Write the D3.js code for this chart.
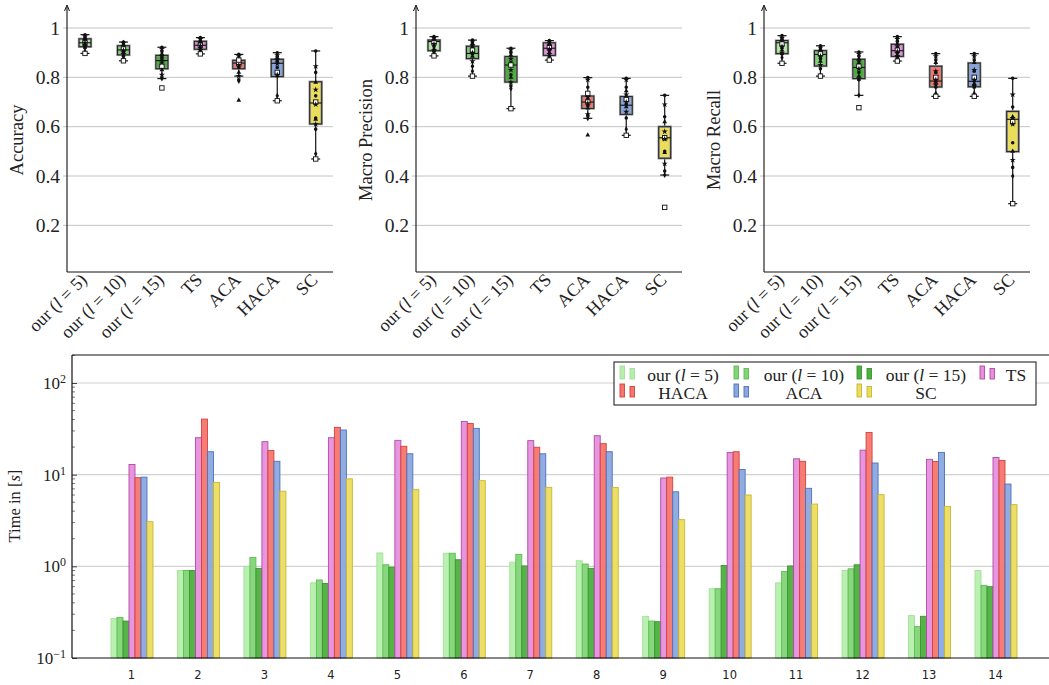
<!DOCTYPE html>
<html>
<head>
<meta charset="utf-8">
<script src="https://cdn.jsdelivr.net/npm/d3@7"></script>
<style>
body { margin: 0; background: #fff; }
svg text { font-family: "Liberation Serif", "Times New Roman", serif; fill: #222; }
</style>
</head>
<body>
<svg id="chart" width="1049" height="685"></svg>
<script>
// ---- data ----
var methods = ["our5", "our10", "our15", "TS", "ACA", "HACA", "SC"];
var methodL = [5, 10, 15, null, null, null, null];
var methodNames = ["our", "our", "our", "TS", "ACA", "HACA", "SC"];
var metrics = ["Accuracy", "Macro Precision", "Macro Recall"];
var boxColors = ["#b4eca8", "#7fd173", "#4aac3c", "#e48fd9", "#f2756c", "#86a5dc", "#eadd5c"];

// box stats: [whisker low, q1, median, q3, whisker high]
var accBox = [[0.897, 0.924, 0.940, 0.956, 0.973], [0.867, 0.891, 0.911, 0.928, 0.943], [0.795, 0.835, 0.868, 0.889, 0.922],
  [0.895, 0.914, 0.930, 0.946, 0.961], [0.805, 0.835, 0.858, 0.869, 0.893], [0.705, 0.803, 0.857, 0.873, 0.900], [0.469, 0.611, 0.696, 0.782, 0.907]];
var precBox = [[0.887, 0.908, 0.945, 0.951, 0.965], [0.805, 0.876, 0.897, 0.926, 0.951], [0.673, 0.781, 0.850, 0.884, 0.918],
  [0.870, 0.889, 0.918, 0.940, 0.949], [0.634, 0.674, 0.700, 0.724, 0.799], [0.565, 0.650, 0.687, 0.722, 0.796], [0.404, 0.472, 0.555, 0.600, 0.727]];
var recBox = [[0.857, 0.896, 0.940, 0.949, 0.969], [0.805, 0.846, 0.893, 0.908, 0.928], [0.727, 0.795, 0.840, 0.873, 0.903],
  [0.866, 0.885, 0.908, 0.934, 0.965], [0.723, 0.761, 0.785, 0.845, 0.896], [0.723, 0.762, 0.784, 0.858, 0.896], [0.288, 0.499, 0.630, 0.662, 0.796]];

// single runs (14 datasets) drawn as marks on the boxes, one mark shape per dataset
var accPts = [
  [0.973, 0.965, 0.96, 0.955, 0.95, 0.945, 0.94, 0.94, 0.935, 0.93, 0.925, 0.92, 0.905, 0.897],
  [0.943, 0.94, 0.935, 0.93, 0.925, 0.92, 0.915, 0.91, 0.905, 0.9, 0.895, 0.885, 0.875, 0.867],
  [0.922, 0.915, 0.905, 0.895, 0.885, 0.88, 0.845, 0.86, 0.87, 0.83, 0.81, 0.797, 0.795, 0.757],
  [0.961, 0.955, 0.95, 0.945, 0.94, 0.935, 0.93, 0.928, 0.92, 0.915, 0.91, 0.905, 0.9, 0.895],
  [0.893, 0.885, 0.878, 0.707, 0.865, 0.86, 0.855, 0.85, 0.84, 0.82, 0.805, 0.79, 0.785, 0.87],
  [0.9, 0.89, 0.885, 0.878, 0.872, 0.865, 0.82, 0.855, 0.84, 0.86, 0.81, 0.805, 0.725, 0.705],
  [0.907, 0.845, 0.82, 0.78, 0.75, 0.725, 0.70, 0.69, 0.635, 0.63, 0.61, 0.59, 0.49, 0.469]];
var precPts = [
  [0.965, 0.96, 0.955, 0.95, 0.948, 0.945, 0.94, 0.935, 0.925, 0.915, 0.91, 0.905, 0.895, 0.887],
  [0.951, 0.945, 0.94, 0.935, 0.93, 0.92, 0.91, 0.9, 0.895, 0.885, 0.865, 0.845, 0.825, 0.805],
  [0.918, 0.91, 0.9, 0.89, 0.875, 0.86, 0.85, 0.83, 0.81, 0.8, 0.78, 0.765, 0.755, 0.673],
  [0.949, 0.945, 0.94, 0.935, 0.93, 0.925, 0.92, 0.915, 0.91, 0.9, 0.895, 0.885, 0.875, 0.87],
  [0.799, 0.79, 0.76, 0.566, 0.72, 0.71, 0.7, 0.695, 0.685, 0.675, 0.65, 0.645, 0.634, 0.735],
  [0.796, 0.79, 0.76, 0.745, 0.73, 0.72, 0.71, 0.7, 0.69, 0.68, 0.66, 0.635, 0.59, 0.565],
  [0.727, 0.69, 0.64, 0.62, 0.58, 0.56, 0.555, 0.55, 0.5, 0.495, 0.45, 0.42, 0.404, 0.273]];
var recPts = [
  [0.969, 0.96, 0.955, 0.95, 0.945, 0.94, 0.935, 0.925, 0.92, 0.91, 0.9, 0.895, 0.88, 0.857],
  [0.928, 0.92, 0.915, 0.91, 0.905, 0.9, 0.895, 0.885, 0.875, 0.865, 0.85, 0.835, 0.81, 0.805],
  [0.903, 0.895, 0.885, 0.875, 0.865, 0.855, 0.845, 0.835, 0.82, 0.805, 0.795, 0.79, 0.727, 0.677],
  [0.965, 0.955, 0.945, 0.935, 0.925, 0.92, 0.91, 0.905, 0.9, 0.89, 0.885, 0.88, 0.875, 0.866],
  [0.896, 0.885, 0.87, 0.86, 0.825, 0.82, 0.8, 0.79, 0.785, 0.78, 0.77, 0.76, 0.735, 0.723],
  [0.896, 0.885, 0.87, 0.86, 0.83, 0.825, 0.8, 0.79, 0.785, 0.775, 0.765, 0.76, 0.735, 0.723],
  [0.796, 0.73, 0.68, 0.64, 0.635, 0.63, 0.62, 0.61, 0.535, 0.5, 0.465, 0.435, 0.4, 0.288]];
var boxTicks = [0.2, 0.4, 0.6, 0.8, 1];

// time per dataset (seconds)
var datasets = [1, 2, 3, 4, 5, 6, 7, 8, 9, 10, 11, 12, 13, 14];
var timeSeries = ["our5", "our10", "our15", "TS", "HACA", "ACA", "SC"];
var timeNames = ["our", "our", "our", "TS", "HACA", "ACA", "SC"];
var timeL = [5, 10, 15, null, null, null, null];
var tOur5  = [0.27, 0.90, 1.00, 0.66, 1.40, 1.39, 1.11, 1.15, 0.285, 0.57, 0.66, 0.90, 0.29, 0.90];
var tOur10 = [0.277, 0.90, 1.25, 0.71, 1.04, 1.39, 1.35, 1.06, 0.253, 0.57, 0.88, 0.94, 0.22, 0.62];
var tOur15 = [0.253, 0.90, 0.95, 0.65, 0.98, 1.18, 1.01, 0.95, 0.249, 1.02, 1.01, 1.04, 0.285, 0.60];
var tTS    = [12.9, 25.3, 22.9, 25.3, 23.7, 38.1, 23.5, 26.6, 9.2, 17.4, 14.9, 18.5, 14.7, 15.4];
var tHACA  = [9.27, 40.4, 18.4, 32.8, 20.4, 36.2, 19.9, 21.8, 9.4, 17.8, 14.0, 28.9, 13.9, 14.3];
var tACA   = [9.4, 17.8, 14.0, 30.7, 16.9, 32.0, 16.9, 17.8, 6.5, 11.4, 7.1, 13.4, 17.5, 7.9];
var tSC    = [3.07, 8.24, 6.6, 9.0, 6.86, 8.6, 7.27, 7.27, 3.23, 6.0, 4.78, 6.05, 4.51, 4.71];
var timeTicks = [0.1, 1, 10, 100];
var barFill = ["#b6efad", "#82d476", "#4caf3e", "#e68fdc", "#f4766e", "#8aa8de", "#ebdc5e"];
var barStroke = ["#a2e198", "#5cbf50", "#3b962f", "#b04aa6", "#d8403a", "#4e70c0", "#cbb632"];

var svg = d3.select("#chart");

// ---- box plots ----
var boxData = [accBox, precBox, recBox];
var ptsData = [accPts, precPts, recPts];
var panelLeft = [67, 416, 764];
var panelW = 266;
var symbols = [d3.symbolCircle, d3.symbolStar, d3.symbolCircle, d3.symbolTriangle, d3.symbolStar, d3.symbolCircle, "sq",
  d3.symbolStar, d3.symbolCircle, d3.symbolTriangle, d3.symbolStar, d3.symbolCircle, d3.symbolDiamond, "sq"];

var yBox = d3.scaleLinear().domain([0, 1]).range([274.7, 28]);

function methodLabel(sel, name, l) {
  if (l == null) { sel.text(name); return; }
  sel.append("tspan").text(name + " (");
  sel.append("tspan").attr("font-style", "italic").text("l");
  sel.append("tspan").text(" = " + l + ")");
}

metrics.forEach(function (m, p) {
  var left = panelLeft[p];
  var g = svg.append("g");
  var x = d3.scalePoint().domain(methods).range([left + 18, left + 248.7]);

  // grid
  g.selectAll(".grid").data(boxTicks).enter().append("line")
    .attr("x1", left - 4).attr("x2", left + panelW)
    .attr("y1", d => yBox(d)).attr("y2", d => yBox(d))
    .attr("stroke", "#c4c4c4").attr("stroke-width", 1);

  var yAxis = d3.axisLeft(yBox).tickValues(boxTicks).tickSize(0).tickPadding(7)
    .tickFormat(d => d === 1 ? "1" : d3.format(".1f")(d));
  var ya = g.append("g").attr("transform", "translate(" + left + ",0)").call(yAxis);
  ya.select(".domain").remove();
  ya.selectAll("text").attr("font-size", 19.5).attr("fill", "#222")
    .style("font-family", "'Liberation Serif', serif");

  // axes lines
  g.append("line").attr("x1", left).attr("x2", left).attr("y1", 272).attr("y2", 7)
    .attr("stroke", "#111").attr("stroke-width", 1.1);
  g.append("path").attr("d", "M" + (left - 2.5) + ",11 L" + left + ",5 L" + (left + 2.5) + ",11")
    .attr("fill", "none").attr("stroke", "#111").attr("stroke-width", 1);
  g.append("line").attr("x1", left).attr("x2", left + panelW).attr("y1", 272).attr("y2", 272)
    .attr("stroke", "#111").attr("stroke-width", 1.1);

  g.append("text").attr("transform", "translate(" + (left - 44) + ",140) rotate(-90)")
    .attr("text-anchor", "middle").attr("font-size", 18.5).text(m);

  // x labels
  methods.forEach(function (k, i) {
    var t = g.append("text")
      .attr("transform", "translate(" + (x(k) + 3) + ",281) rotate(-45)")
      .attr("text-anchor", "end").attr("font-size", 18);
    methodLabel(t, methodNames[i], methodL[i]);
  });

  // boxes
  var bw = 12;
  boxData[p].forEach(function (b, i) {
    var cx = x(methods[i]);
    var bg = g.append("g");
    bg.append("line").attr("x1", cx).attr("x2", cx).attr("y1", yBox(b[0])).attr("y2", yBox(b[4]))
      .attr("stroke", "#111").attr("stroke-width", 1.2);
    [b[0], b[4]].forEach(function (v) {
      bg.append("line").attr("x1", cx - 4.5).attr("x2", cx + 4.5).attr("y1", yBox(v)).attr("y2", yBox(v))
        .attr("stroke", "#111").attr("stroke-width", 1.2);
    });
    bg.append("rect").attr("x", cx - bw / 2).attr("width", bw)
      .attr("y", yBox(b[3])).attr("height", yBox(b[1]) - yBox(b[3]))
      .attr("fill", boxColors[i]).attr("stroke", "#999").attr("stroke-width", 2.4);
    bg.append("rect").attr("x", cx - bw / 2).attr("width", bw)
      .attr("y", yBox(b[3])).attr("height", yBox(b[1]) - yBox(b[3]))
      .attr("fill", "none").attr("stroke", "#222").attr("stroke-width", 1);
    bg.append("line").attr("x1", cx - bw / 2).attr("x2", cx + bw / 2).attr("y1", yBox(b[2])).attr("y2", yBox(b[2]))
      .attr("stroke", "#111").attr("stroke-width", 1.1);

    ptsData[p][i].forEach(function (v, j) {
      var s = symbols[j];
      if (s === "sq") {
        bg.append("rect").attr("x", cx - 2.2).attr("y", yBox(v) - 2.2).attr("width", 4.4).attr("height", 4.4)
          .attr("fill", "#fff").attr("stroke", "#111").attr("stroke-width", 0.9);
      } else {
        bg.append("path").attr("d", d3.symbol().type(s).size(s === d3.symbolStar ? 12 : 10)())
          .attr("transform", "translate(" + cx + "," + yBox(v) + ")").attr("fill", "#111");
      }
    });
  });
});

// ---- time bar chart ----
var timeData = [tOur5, tOur10, tOur15, tTS, tHACA, tACA, tSC];
var xT = d3.scalePoint().domain(datasets).range([131, 995]);
var yT = d3.scaleLog().domain([0.1, 100]).range([658, 383]);
var plotL = 72, plotR = 1049, plotT = 355, plotB = 658;
var gT = svg.append("g");

gT.selectAll(".tgrid").data(timeTicks.slice(1)).enter().append("line")
  .attr("x1", plotL).attr("x2", plotR).attr("y1", d => yT(d)).attr("y2", d => yT(d))
  .attr("stroke", "#d2d2d2").attr("stroke-width", 1.2);

var bwT = 6;
timeData.forEach(function (vals, j) {
  gT.selectAll(".b" + j).data(vals).enter().append("rect")
    .attr("x", (d, i) => xT(datasets[i]) + (j - 3.5) * bwT + 1)
    .attr("width", bwT)
    .attr("y", d => yT(d))
    .attr("height", d => plotB - yT(d))
    .attr("fill", barFill[j]).attr("fill-opacity", 0.95)
    .attr("stroke", barStroke[j]).attr("stroke-width", 0.9);
});

// minor ticks
var minor = [];
[0.1, 1, 10, 100].forEach(function (dec) {
  for (var k = 2; k <= 9; k++) { if (dec * k <= 200) minor.push(dec * k); }
});
gT.selectAll(".minor").data(minor).enter().append("line")
  .attr("x1", plotL).attr("x2", plotL + 3).attr("y1", d => yT(d)).attr("y2", d => yT(d))
  .attr("stroke", "#444").attr("stroke-width", 0.7);

var yAxT = d3.axisLeft(yT).tickValues(timeTicks).tickSize(-5).tickPadding(8).tickFormat("");
var yaT = gT.append("g").attr("transform", "translate(" + plotL + ",0)").call(yAxT);
yaT.select(".domain").remove();
yaT.selectAll(".tick line").attr("stroke", "#444");
yaT.selectAll(".tick").each(function (d) {
  var e = Math.round(Math.log10(d));
  var t = d3.select(this).append("text").attr("x", -6).attr("dy", "0.32em")
    .attr("text-anchor", "end").attr("font-size", 17).attr("fill", "#222");
  t.append("tspan").text("10");
  t.append("tspan").attr("dy", "-0.5em").attr("font-size", 12)
    .text(e < 0 ? "\u2212" + Math.abs(e) : e);
});

var xAxT = d3.axisBottom(xT).tickSize(0).tickPadding(13);
var xaT = gT.append("g").attr("transform", "translate(0," + plotB + ")").call(xAxT);
xaT.select(".domain").remove();
xaT.selectAll("text").attr("font-size", 11.5).attr("fill", "#222")
  .style("font-family", "'DejaVu Sans', sans-serif");

// frame
gT.append("line").attr("x1", plotL).attr("x2", plotR).attr("y1", plotB).attr("y2", plotB).attr("stroke", "#111").attr("stroke-width", 1.2);
gT.append("line").attr("x1", plotL).attr("x2", plotR).attr("y1", plotT).attr("y2", plotT).attr("stroke", "#111").attr("stroke-width", 1.2);
gT.append("line").attr("x1", plotL).attr("x2", plotL).attr("y1", plotT).attr("y2", plotB).attr("stroke", "#111").attr("stroke-width", 1.2);

var yl = gT.append("text").attr("transform", "translate(20,506) rotate(-90)")
  .attr("text-anchor", "middle").attr("font-size", 16.5);
yl.append("tspan").text("Time in [");
yl.append("tspan").attr("font-style", "italic").text("s");
yl.append("tspan").text("]");

// legend
var lg = gT.append("g");
lg.append("rect").attr("x", 614).attr("y", 362).attr("width", 422).attr("height", 43)
  .attr("fill", "#fff").attr("stroke", "#111").attr("stroke-width", 1);
var iconX = [620, 734, 857, 980];
var textX = [683, 804, 926, 1016];
timeSeries.forEach(function (s, j) {
  var col = j % 4, row = Math.floor(j / 4);
  var base = 379 + row * 18;
  lg.append("rect").attr("x", iconX[col]).attr("y", base - 13).attr("width", 4.5).attr("height", 13)
    .attr("fill", barFill[j]).attr("stroke", barStroke[j]).attr("stroke-width", 0.9);
  lg.append("rect").attr("x", iconX[col] + 10).attr("y", base - 10.5).attr("width", 4.5).attr("height", 10.5)
    .attr("fill", barFill[j]).attr("stroke", barStroke[j]).attr("stroke-width", 0.9);
  var t = lg.append("text").attr("x", textX[col]).attr("y", base + 2).attr("text-anchor", "middle").attr("font-size", 17.5);
  methodLabel(t, timeNames[j], timeL[j]);
});
</script>
</body>
</html>
